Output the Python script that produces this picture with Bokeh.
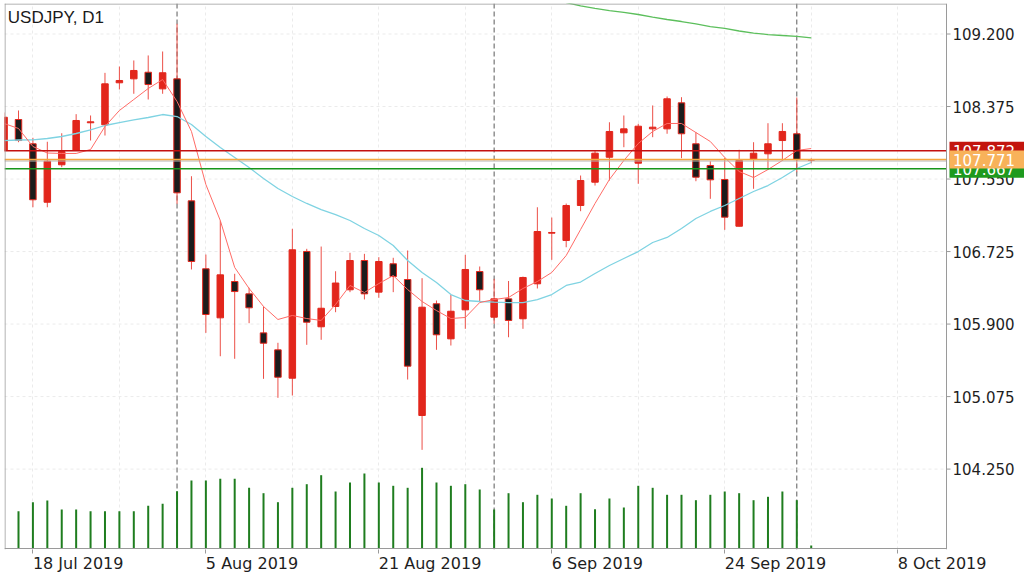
import numpy as np
from bokeh.plotting import figure
from bokeh.models import (ColumnDataSource, Range1d, FixedTicker, Span, Label,
                          CDSView, IndexFilter)
from bokeh.core.properties import value
from bokeh.embed import file_html
from bokeh.resources import INLINE

chart_title = "USDJPY, D1"

dates = [
    "2019-07-16", "2019-07-17", "2019-07-18", "2019-07-19", "2019-07-22", "2019-07-23",
    "2019-07-24", "2019-07-25", "2019-07-26", "2019-07-29", "2019-07-30", "2019-07-31",
    "2019-08-01", "2019-08-02", "2019-08-05", "2019-08-06", "2019-08-07", "2019-08-08",
    "2019-08-09", "2019-08-12", "2019-08-13", "2019-08-14", "2019-08-15", "2019-08-16",
    "2019-08-19", "2019-08-20", "2019-08-21", "2019-08-22", "2019-08-23", "2019-08-26",
    "2019-08-27", "2019-08-28", "2019-08-29", "2019-08-30", "2019-09-02", "2019-09-03",
    "2019-09-04", "2019-09-05", "2019-09-06", "2019-09-09", "2019-09-10", "2019-09-11",
    "2019-09-12", "2019-09-13", "2019-09-16", "2019-09-17", "2019-09-18", "2019-09-19",
    "2019-09-20", "2019-09-23", "2019-09-24", "2019-09-25", "2019-09-26", "2019-09-27",
    "2019-09-30", "2019-10-01", "2019-10-02",
]
opens = [
    107.875, 108.227, 107.951, 107.286, 107.712, 107.875, 108.190, 108.167, 108.645, 108.690,
    108.765, 108.576, 108.690, 107.302, 106.529, 105.971, 106.384, 106.244, 105.800, 105.607,
    105.284, 106.726, 105.869, 106.100, 106.290, 106.623, 106.263, 106.586, 106.407, 104.860,
    106.131, 105.732, 106.062, 106.498, 105.978, 106.187, 105.960, 106.358, 106.934, 106.851,
    107.249, 107.514, 107.798, 108.076, 107.730, 108.121, 108.121, 108.417, 107.951, 107.704,
    107.545, 107.013, 107.772, 107.837, 107.988, 108.065, 107.765,
]
highs = [
    108.307, 108.330, 108.019, 107.974, 108.071, 108.288, 108.273, 108.758, 108.830, 108.899,
    108.956, 109.001, 109.316, 107.582, 106.691, 107.078, 106.472, 106.313, 106.100, 105.687,
    106.984, 106.756, 106.782, 106.501, 106.711, 106.699, 106.661, 106.654, 106.737, 106.422,
    106.168, 106.233, 106.688, 106.555, 106.415, 106.390, 106.440, 107.229, 107.112, 107.271,
    107.590, 107.874, 108.196, 108.273, 108.178, 108.387, 108.489, 108.481, 108.083, 107.753,
    107.791, 107.883, 107.969, 108.185, 108.185, 108.478, 107.785,
]
lows = [
    107.855, 107.969, 107.229, 107.229, 107.685, 107.869, 107.988, 108.045, 108.569, 108.520,
    108.455, 108.520, 107.268, 106.521, 105.800, 105.534, 105.505, 105.910, 105.277, 105.061,
    105.087, 105.664, 105.721, 106.035, 106.263, 106.180, 106.199, 106.263, 105.269, 104.469,
    105.607, 105.656, 105.846, 106.149, 105.903, 105.750, 105.846, 106.305, 106.631, 106.774,
    107.184, 107.476, 107.533, 107.912, 107.496, 108.026, 108.065, 107.787, 107.525, 107.325,
    106.972, 107.010, 107.439, 107.655, 107.761, 107.628, 107.730,
]
closes = [
    108.253, 107.988, 107.314, 107.753, 107.863, 108.216, 108.201, 108.633, 108.671, 108.785,
    108.625, 108.759, 107.393, 106.612, 106.009, 106.460, 106.270, 106.085, 105.682, 105.295,
    106.745, 105.921, 106.080, 106.367, 106.623, 106.244, 106.612, 106.441, 105.421, 106.092,
    105.778, 106.046, 106.521, 106.290, 106.187, 105.941, 106.430, 106.953, 106.942, 107.249,
    107.533, 107.844, 108.091, 108.121, 108.151, 108.140, 108.463, 108.065, 107.571, 107.541,
    107.116, 107.761, 107.844, 107.951, 108.091, 107.771, 107.771,
]
volumes = [
    41000, 37300, 46300, 48000, 39000, 39000, 37300, 37300, 37300, 37300,
    42700, 44700, 57300, 68000, 68000, 69700, 69700, 60700, 55300, 46300,
    60700, 64300, 73300, 57000, 66000, 75000, 66000, 62700, 60700, 80700,
    66000, 62700, 64300, 59000, 39000, 55300, 46300, 53700, 50000, 42700,
    55300, 39300, 50000, 41000, 62700, 60700, 53700, 53700, 48300, 53700,
    57000, 55300, 48300, 51700, 57000, 48300, 3000,
]
ma_fast = [
    108.182, 108.125, 107.920, 107.846, 107.841, 107.841, 107.886, 108.148, 108.330, 108.455,
    108.580, 108.682, 108.432, 108.091, 107.488, 107.078, 106.544, 106.305, 106.100, 105.952,
    105.998, 105.963, 105.941, 106.123, 106.339, 106.259, 106.361, 106.452, 106.293, 106.157,
    106.054, 105.963, 105.975, 106.145, 106.179, 106.202, 106.305, 106.384, 106.487, 106.680,
    106.976, 107.272, 107.545, 107.761, 107.954, 108.091, 108.182, 108.182, 108.079, 107.977,
    107.795, 107.636, 107.567, 107.658, 107.761, 107.875, 107.897,
]
ma_mid = [
    107.988, 107.994, 107.996, 108.011, 108.034, 108.068, 108.108, 108.159, 108.193, 108.222,
    108.250, 108.284, 108.261, 108.170, 108.034, 107.909, 107.795, 107.681, 107.556, 107.442,
    107.351, 107.272, 107.203, 107.146, 107.078, 106.987, 106.908, 106.794, 106.623, 106.487,
    106.373, 106.236, 106.168, 106.157, 106.149, 106.145, 106.145, 106.179, 106.236, 106.339,
    106.378, 106.475, 106.566, 106.646, 106.725, 106.828, 106.885, 106.987, 107.101, 107.181,
    107.249, 107.329, 107.408, 107.476, 107.567, 107.670, 107.738,
]
# slow MA, last 18 bars only (earlier values lie above the visible range)
ma_slow = [
    109.558, 109.519, 109.492, 109.467, 109.445, 109.422, 109.393, 109.365, 109.342, 109.314,
    109.285, 109.263, 109.234, 109.211, 109.194, 109.183, 109.172, 109.157,
]

x_tick_labels = ["18 Jul 2019", "5 Aug 2019", "21 Aug 2019", "6 Sep 2019", "24 Sep 2019", "8 Oct 2019"]
x_tick_pos = [2, 14, 26, 38, 50, 62]
y_ticks = [104.250, 105.075, 105.900, 106.725, 107.550, 108.375, 109.200]

level_high = 107.872
level_bid = 107.771
level_ask = 107.755
level_low = 107.667

# ---------------------------------------------------------------- layout helpers
BULL = "#e2261c"
BEAR = "#1c1c1c"
AXIS_GRAY = "#9a9a9a"
FONT = "DejaVu Sans"
W, H = 1024, 575
BORDER_L, BORDER_T, BORDER_B = 4, 3, 26

# pixel geometry of the price pane (page pixels)
PX_BAR0, PX_PER_BAR = 3.587, 14.413        # x of bar position 0, pixels per bar
PY_REF, PRICE_REF, PX_PER_PRICE = 33.5, 109.2, 87.9
PX_AXIS = 946                                # price scale line


def xpx(px):
    return (px - PX_BAR0) / PX_PER_BAR


def ypx(py):
    return PRICE_REF - (py - PY_REF) / PX_PER_PRICE


X0, X1 = xpx(BORDER_L), xpx(W)
Y0, Y1 = ypx(H - BORDER_B), ypx(BORDER_T)
AX = xpx(PX_AXIS)

pos = np.arange(len(dates))
o = np.array(opens)
c = np.array(closes)
src = ColumnDataSource(dict(
    x=pos,
    top=np.maximum(o, c),
    bottom=np.minimum(o, c),
    high=highs,
    low=lows,
    fill=[BULL if cc >= oo else BEAR for oo, cc in zip(opens, closes)],
    vol=volumes,
))

p = figure(width=W, height=H,
           x_range=Range1d(X0, X1), y_range=Range1d(Y0, Y1),
           y_axis_location=None, output_backend="svg", toolbar_location=None,
           min_border_left=BORDER_L, min_border_top=BORDER_T,
           min_border_right=0, min_border_bottom=BORDER_B,
           background_fill_color="white", border_fill_color="white")
p.outline_line_color = None

# x axis: tick marks at the dates (minor ticks), labels left-aligned at them
DEJAVU_EM = {"0": .6362, "1": .6362, "2": .6362, "3": .6362, "4": .6362, "5": .6362,
             "6": .6362, "7": .6362, "8": .6362, "9": .6362, " ": .3179, "J": .2949,
             "u": .6338, "l": .2778, "A": .6841, "g": .6348, "S": .6348, "e": .6152,
             "p": .6348, "O": .7871, "c": .5498, "t": .3921}
DATE_FONT_PX = 16
anchors = [round(t + sum(DEJAVU_EM.get(ch, .6) for ch in lab) * DATE_FONT_PX / 2 / PX_PER_BAR, 4)
           for t, lab in zip(x_tick_pos, x_tick_labels)]
p.xaxis.ticker = FixedTicker(ticks=anchors, minor_ticks=x_tick_pos)
p.xaxis.major_label_overrides = {a: lab for a, lab in zip(anchors, x_tick_labels)}
p.xaxis.major_label_text_font = FONT
p.xaxis.major_label_text_font_size = f"{DATE_FONT_PX}px"
p.xaxis.major_label_text_color = "#1e1e1e"
p.xaxis.major_label_standoff = 0
p.xaxis.major_tick_line_color = None
p.xaxis.major_tick_in = 0
p.xaxis.major_tick_out = 0
p.xaxis.minor_tick_line_color = AXIS_GRAY
p.xaxis.minor_tick_in = 0
p.xaxis.minor_tick_out = 4
p.xaxis.axis_line_color = None

# grid
p.xgrid.ticker = FixedTicker(ticks=list(range(2, 63, 6)))
p.xgrid.grid_line_color = "#ebebeb"
p.xgrid.grid_line_dash = "3 3"
p.ygrid.visible = False
p.segment(x0=X0, x1=AX, y0=y_ticks, y1=y_ticks, line_color="#ebebeb",
          line_dash="3 3", line_width=1)

# month separators
for i in range(1, len(dates)):
    if dates[i][5:7] != dates[i - 1][5:7]:
        p.add_layout(Span(location=int(pos[i]), dimension="height", line_color="#5a5a5a",
                          line_dash="5 3", line_width=1, level="underlay"))

# volume (baseline on the bottom edge of the pane); the half-hidden first bar's
# volume sits under the pane border in the original, so it is not drawn
vol_base_px = H - BORDER_B - 1
p.extra_y_ranges = {"vol": Range1d(-(H - BORDER_B - vol_base_px) * 1000,
                                   (vol_base_px - BORDER_T) * 1000)}
vol_view = CDSView(filter=IndexFilter(list(range(1, len(dates)))))
p.segment(x0="x", y0=0, x1="x", y1="vol", source=src, view=vol_view, y_range_name="vol",
          line_color="#1f7d1f", line_width=2)

# candles
p.segment(x0="x", y0="low", x1="x", y1="high", source=src,
          line_color="#ec4f47", line_width=1)
p.vbar(x="x", width=0.45, top="top", bottom="bottom", source=src,
       fill_color="fill", line_color=BULL, line_width=1)

# moving averages
p.line(pos, ma_mid, line_color="#7fd3e2", line_width=1.3)
p.line(pos, ma_fast, line_color="#ff6b66", line_width=1)
p.line(pos[-len(ma_slow):], ma_slow, line_color="#5cbf5c", line_width=1.3)

# price levels (up to the price scale)
for lvl, col, lw in ((level_ask, "#b4b4b4", 1), (level_bid, "#f5a73f", 1.5),
                     (level_high, "#c41010", 1.5), (level_low, "#17961a", 1.5)):
    p.segment(x0=X0, x1=AX, y0=lvl, y1=lvl, line_color=col, line_width=lw)

# pane border: left, top, bottom and the price scale line
p.segment(x0=[xpx(4.5), X0, X0, AX], x1=[xpx(4.5), AX, AX, AX],
          y0=[Y0, ypx(3.5), ypx(548), Y0], y1=[Y1, ypx(3.5), ypx(548), Y1],
          line_color=AXIS_GRAY, line_width=1)

# price scale: tick marks and labels
p.segment(x0=AX, x1=xpx(PX_AXIS + 4), y0=y_ticks, y1=y_ticks, line_color=AXIS_GRAY, line_width=1)
p.text(x=xpx(PX_AXIS + 6), y=y_ticks, text=[f"{t:.3f}" for t in y_ticks],
       text_font=value(FONT), text_font_size="15px", text_color="#1e1e1e",
       text_align="left", text_baseline="middle")

# price boxes on the scale
half_box = 9 / PX_PER_PRICE
for lvl, col in ((level_high, "#c3150e"), (level_low, "#1e9a1e"), (level_bid, "#f8b25a")):
    p.quad(left=xpx(PX_AXIS + 3), right=X1, bottom=lvl - half_box, top=lvl + half_box,
           fill_color=col, line_color=None)
    p.text(x=[xpx(PX_AXIS + 6.5)], y=[lvl], text=[f"{lvl:.3f}"],
           text_font=value(FONT), text_font_size="15px", text_color="white",
           text_align="left", text_baseline="middle")

# title
p.add_layout(Label(x=xpx(7.3), y=ypx(17), text=chart_title, text_color="#1a1a1a",
                   text_font="Liberation Sans", text_font_size="17px",
                   text_align="left", text_baseline="middle"))

open("out.html", "w").write(file_html(p, INLINE))
